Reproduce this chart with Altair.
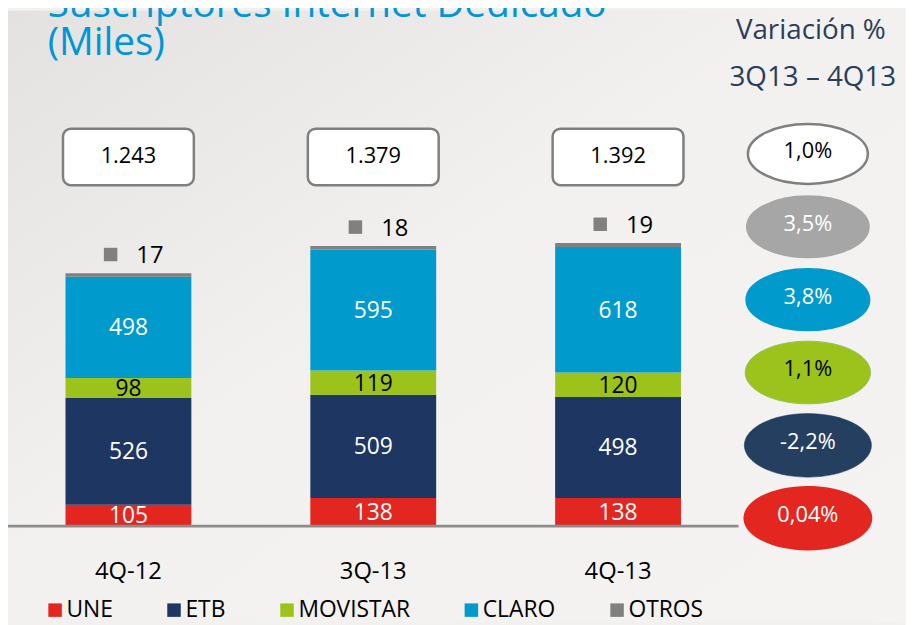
import altair as alt
import pandas as pd

# ---- data ----
categorias = ["4Q-12", "3Q-13", "4Q-13"]
operadores = ["UNE", "ETB", "MOVISTAR", "CLARO", "OTROS"]
une = [105, 138, 138]
etb = [526, 509, 498]
movistar = [98, 119, 120]
claro = [498, 595, 618]
otros = [17, 18, 19]
totales = ["1.243", "1.379", "1.392"]
var_series = ["TOTAL", "OTROS", "CLARO", "MOVISTAR", "ETB", "UNE"]
var_labels = ["1,0%", "3,5%", "3,8%", "1,1%", "-2,2%", "0,04%"]
titulo = ["Suscriptores Internet Dedicado", "(Miles)"]
subtitulo = ["Variación %", "3Q13 – 4Q13"]

# ---- styles ----
colores = ["#e3261f", "#1e3662", "#9bc31c", "#009acd", "#808080"]
label_colores = ["#ffffff", "#ffffff", "#000000", "#ffffff", "#000000"]
ell_fill = ["#ffffff", "#a6a6a6", "#009acd", "#9bc31c", "#243f60", "#e3261f"]
ell_stroke = ["#7f7f7f", "#a6a6a6", "#009acd", "#92c155", "#17365d", "#e3261f"]
ell_sw = [2.5, 0.0, 0.0, 7.0, 7.0, 0.0]
ell_size = [121 ** 2, 130 ** 2, 130 ** 2, 123 ** 2, 123 ** 2, 130 ** 2]
ell_text = ["#000000", "#ffffff", "#ffffff", "#000000", "#ffffff", "#ffffff"]
FONT = "Open Sans"
ELLIPSE = ("M -1 0 C -1 -0.2761 -0.5523 -0.5 0 -0.5 C 0.5523 -0.5 1 -0.2761 1 0 "
           "C 1 0.2761 0.5523 0.5 0 0.5 C -0.5523 0.5 -1 0.2761 -1 0 Z")

serie = {"UNE": une, "ETB": etb, "MOVISTAR": movistar, "CLARO": claro, "OTROS": otros}
rows = []
for i, c in enumerate(categorias):
    acc = 0
    for op in operadores:
        v = serie[op][i]
        rows.append({"cat": c, "op": op, "valor": v, "ini": acc, "fin": acc + v,
                     "mid": acc + v / 2})
        acc += v
df = pd.DataFrame(rows)
df_tot = pd.DataFrame({"cat": categorias, "total": totales})
df_var = pd.DataFrame({"serie": var_series, "label": var_labels})

xs = alt.X("cat:N", sort=categorias, axis=None,
           scale=alt.Scale(domain=categorias, range=[-2, 739],
                           paddingInner=0.486, paddingOuter=0.243))
yscale = alt.Scale(domain=[0, 2500], range=[520, 7.5])

bg = alt.Chart(pd.DataFrame({"z": [0]})).mark_rect(
    fill=alt.LinearGradient(gradient="linear", x1=0, y1=0, x2=1, y2=1,
                            stops=[alt.GradientStop(color="#e3e2e0", offset=0),
                                   alt.GradientStop(color="#f2f1ef", offset=0.45),
                                   alt.GradientStop(color="#f4f3f1", offset=1)])
).encode(x=alt.value(0), x2=alt.value(906), y=alt.value(0), y2=alt.value(617))

base = alt.Chart(df)
bars = base.mark_bar().encode(
    x=xs,
    y=alt.Y("ini:Q", scale=yscale, axis=None),
    y2="fin:Q",
    color=alt.Color("op:N", scale=alt.Scale(domain=operadores, range=colores),
                    legend=alt.Legend(orient="none", legendX=36, legendY=593,
                                      direction="horizontal", title=None,
                                      symbolType="square", symbolSize=185,
                                      symbolStrokeWidth=0, symbolOpacity=1,
                                      labelFont=FONT, labelFontSize=23,
                                      labelColor="#000000", columnPadding=50,
                                      labelOffset=0)),
    order=alt.Order("ini:Q"),
)
seg_labels = base.transform_filter(alt.datum.op != "OTROS").mark_text(
    font=FONT, fontSize=23, baseline="middle", dy=1).encode(
    x=xs,
    y=alt.Y("mid:Q", scale=yscale, axis=None),
    text="valor:Q",
    fill=alt.Fill("op:N", scale=alt.Scale(domain=operadores, range=label_colores),
                  legend=None),
)
otros_df = base.transform_filter(alt.datum.op == "OTROS")
otros_sq = otros_df.mark_square(size=185, color="#808080", opacity=1,
                                xOffset=-18, yOffset=-19).encode(
    x=xs, y=alt.Y("fin:Q", scale=yscale, axis=None))
otros_txt = otros_df.mark_text(font=FONT, fontSize=24, align="left", baseline="middle",
                               color="#000000", dx=8, dy=-17).encode(
    x=xs, y=alt.Y("fin:Q", scale=yscale, axis=None), text="valor:Q")

tot = alt.Chart(df_tot)
boxes = tot.mark_bar(width=132, cornerRadius=8, fill="#ffffff", stroke="#7f7f7f",
                     strokeWidth=2.5).encode(
    x=xs, y=alt.value(119), y2=alt.value(176))
box_txt = tot.mark_text(font=FONT, fontSize=22, baseline="middle", color="#000000").encode(
    x=xs, y=alt.value(147), text="total:N")
cat_txt = tot.mark_text(font=FONT, fontSize=24, baseline="middle", color="#000000").encode(
    x=xs, y=alt.value(566), text="cat:N")
rule = alt.Chart(pd.DataFrame({"z": [0]})).mark_rule(color="#8c8c8c", strokeWidth=3).encode(
    y=alt.Y("z:Q", scale=yscale, axis=None), x=alt.value(0), x2=alt.value(737))

bar_group = alt.layer(boxes, box_txt, bars, seg_labels, otros_sq, otros_txt, rule, cat_txt)

ys = alt.Y("serie:N", axis=None,
           scale=alt.Scale(type="point", domain=var_series, range=[144.5, 512], padding=0))
ell = alt.Chart(df_var).mark_point(shape=ELLIPSE, filled=True, opacity=1).encode(
    x=alt.value(807),
    y=ys,
    fill=alt.Fill("serie:N", scale=alt.Scale(domain=var_series, range=ell_fill), legend=None),
    stroke=alt.Stroke("serie:N", scale=alt.Scale(domain=var_series, range=ell_stroke),
                      legend=None),
    strokeWidth=alt.StrokeWidth("serie:O", scale=alt.Scale(domain=var_series, range=ell_sw),
                                legend=None),
    size=alt.Size("serie:O", scale=alt.Scale(domain=var_series, range=ell_size), legend=None),
)
ell_txt = alt.Chart(df_var).mark_text(font=FONT, fontSize=22, baseline="middle", dy=-3).encode(
    x=alt.value(807),
    y=ys,
    text="label:N",
    color=alt.Color("serie:N", scale=alt.Scale(domain=var_series, range=ell_text), legend=None),
)
ell_group = alt.layer(ell, ell_txt)

t1 = alt.Chart(pd.DataFrame({"t": [titulo[0]]})).mark_text(
    font=FONT, fontSize=39, align="left", baseline="alphabetic", color="#0096d6").encode(
    x=alt.value(40), y=alt.value(6), text="t:N")
t2 = alt.Chart(pd.DataFrame({"t": [titulo[1]]})).mark_text(
    font=FONT, fontSize=39, align="left", baseline="alphabetic", color="#0096d6").encode(
    x=alt.value(40), y=alt.value(45), text="t:N")
s1 = alt.Chart(pd.DataFrame({"t": [subtitulo[0]]})).mark_text(
    font=FONT, fontSize=28, align="center", baseline="alphabetic", color="#2b3d5c").encode(
    x=alt.value(810), y=alt.value(29), text="t:N")
s2 = alt.Chart(pd.DataFrame({"t": [subtitulo[1]]})).mark_text(
    font=FONT, fontSize=28, align="center", baseline="alphabetic", color="#2b3d5c").encode(
    x=alt.value(812), y=alt.value(76), text="t:N")

chart = alt.layer(bg, bar_group, ell_group, t1, t2, s1, s2).resolve_scale(
    y="independent", color="independent", fill="independent"
).properties(
    width=906, height=617, autosize=alt.AutoSizeParams(type="none"), padding=0,
    background="#f2f1ef"
).configure_view(stroke=None)

chart.save("out.html", embed_options={"renderer": "svg", "actions": False})
